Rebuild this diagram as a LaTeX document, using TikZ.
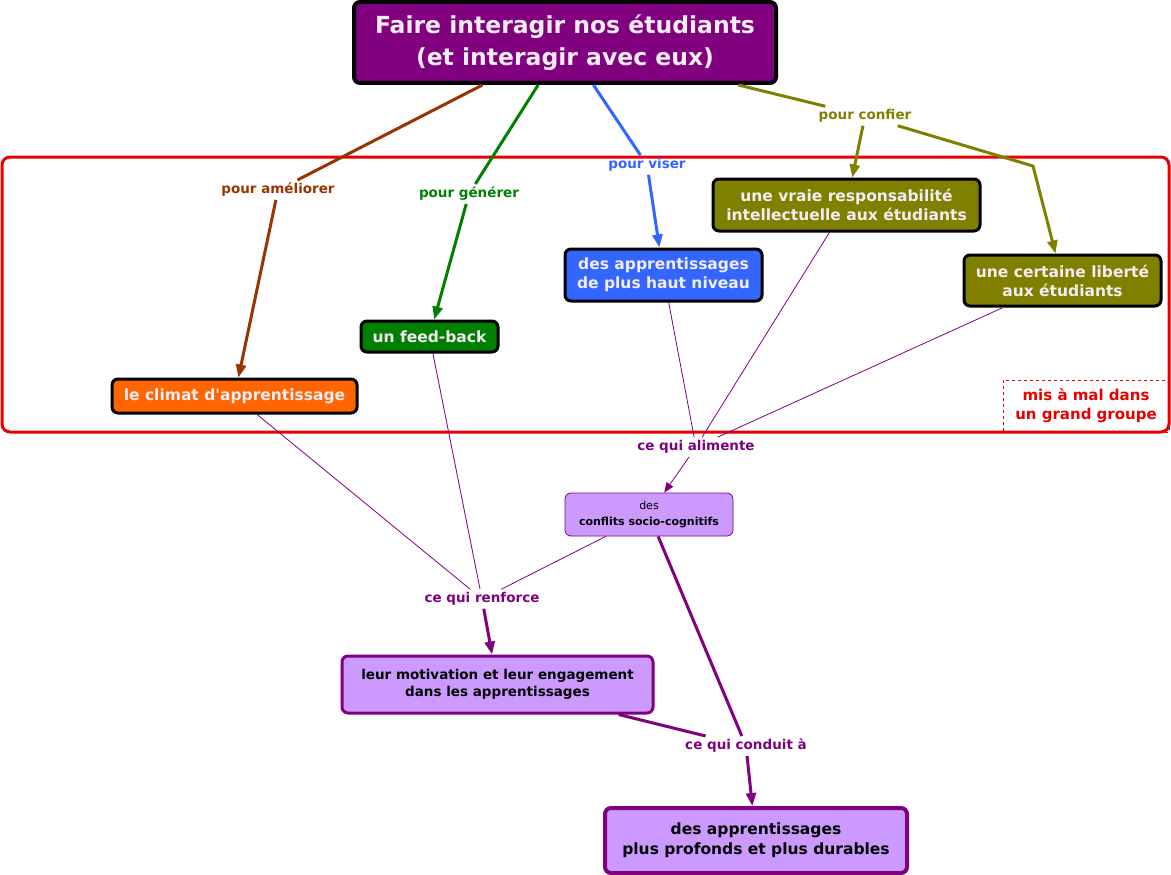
\documentclass[tikz,border=0pt]{standalone}
\usepackage{fontspec}
\setmainfont{DejaVu Sans}
\usetikzlibrary{arrows.meta}
\definecolor{cpurple}{HTML}{800080}
\definecolor{cbrown}{HTML}{993300}
\definecolor{cgreen}{HTML}{008000}
\definecolor{cblue}{HTML}{3366FF}
\definecolor{colive}{HTML}{808000}
\definecolor{cred}{HTML}{E60000}
\definecolor{corange}{HTML}{FF6600}
\definecolor{clav}{HTML}{CC99FF}
\definecolor{ctxt}{HTML}{F4ECF4}
\tikzset{
  box/.style={rounded corners=6pt, inner sep=0pt, align=center, font=\fontsize{15.5}{19}\selectfont\bfseries, text=ctxt, draw=black, line width=3pt},
  lbl/.style={inner sep=3pt, font=\fontsize{13.5}{16}\selectfont\bfseries},
  thinp/.style={draw=cpurple, line width=0.8pt},
  thickp/.style={draw=cpurple, line width=3pt},
  tip/.style={-{Triangle[length=13pt,width=10pt]}},
  smalltip/.style={-{Triangle[length=10pt,width=8pt]}},
}
\begin{document}
\begin{tikzpicture}[x=1pt,y=-1pt]
\useasboundingbox (0,0) rectangle (1171,875);
% group zone
\draw[cred, line width=3pt, rounded corners=8pt] (2,157) rectangle (1169,432);
\node[draw=cred, dashed, line width=0.6pt, minimum width=166pt, minimum height=52pt, inner sep=0pt, align=center, text=cred, font=\fontsize{15}{19}\selectfont\bfseries] (mal) at (1086,406) {mis à mal dans\\un grand groupe};
% nodes
\node[box, fill=cpurple, line width=4pt, minimum width=422pt, minimum height=81pt, font=\fontsize{23.5}{32}\selectfont\bfseries] (top) at (565,42.5) {Faire interagir nos étudiants\\ (et interagir avec eux)};
\node[box, fill=corange, minimum width=245pt, minimum height=34pt] (climat) at (234.5,396) {le climat d\textquotesingle apprentissage};
\node[box, fill=cgreen, minimum width=137pt, minimum height=31pt] (feed) at (429.5,336.5) {un feed-back};
\node[box, fill=cblue, minimum width=197pt, minimum height=52pt] (haut) at (663.5,275) {des apprentissages\\de plus haut niveau};
\node[box, fill=colive, minimum width=267pt, minimum height=52pt] (vraie) at (846.5,205) {une vraie responsabilité\\intellectuelle aux étudiants};
\node[box, fill=colive, minimum width=197pt, minimum height=51pt] (lib) at (1062.5,280.5) {une certaine liberté\\aux étudiants};
\node[box, fill=clav, draw=cpurple, line width=0.8pt, minimum width=168pt, minimum height=43pt, text=black, font=\fontsize{11}{16}\selectfont] (confl) at (649,514.5) {des\\\textbf{conflits socio-cognitifs}};
\node[box, fill=clav, draw=cpurple, minimum width=311pt, minimum height=57pt, text=black, font=\fontsize{13.5}{17}\selectfont\bfseries] (motiv) at (497.5,684.5) {leur motivation et leur engagement\\dans les apprentissages};
\node[box, fill=clav, draw=cpurple, line width=4pt, minimum width=302pt, minimum height=65pt, text=black, font=\fontsize{15.5}{20}\selectfont\bfseries] (final) at (756,840.5) {des apprentissages\\plus profonds et plus durables};
% labels
\node[lbl, text=cbrown] (lam) at (278,190) {pour améliorer};
\node[lbl, text=cgreen] (lgen) at (469,194) {pour générer};
\node[lbl, text=cblue] (lvis) at (647,165) {pour viser};
\node[lbl, text=colive] (lconf) at (865,116) {pour confier};
\node[lbl, text=cpurple] (lalim) at (696,447) {ce qui alimente};
\node[lbl, text=cpurple] (lrenf) at (482,599) {ce qui renforce};
\node[lbl, text=cpurple] (lcond) at (746,746) {ce qui conduit à};
\coordinate (cbend) at (1033,166);
% connectors
\draw[cbrown, line width=3pt] (top) -- (lam);
\draw[cbrown, line width=3pt, tip] (lam) -- (climat);
\draw[cgreen, line width=3pt] (top) -- (lgen);
\draw[cgreen, line width=3pt, tip] (lgen) -- (feed);
\draw[cblue, line width=3pt] (top) -- (lvis);
\draw[cblue, line width=3pt, tip] (lvis) -- (haut);
\draw[colive, line width=3pt] (top) -- (lconf);
\draw[colive, line width=3pt, tip] (lconf) -- (vraie);
\draw[colive, line width=3pt, tip] (lconf) -- (cbend) -- (lib);
\draw[thinp] (haut) -- (lalim);
\draw[thinp] (vraie) -- (lalim);
\draw[thinp] (lib) -- (lalim);
\draw[thinp, smalltip] (lalim) -- (confl);
\draw[thinp] (climat) -- (lrenf);
\draw[thinp] (feed) -- (lrenf);
\draw[thinp] (confl) -- (lrenf);
\draw[thickp, tip] (lrenf) -- (motiv);
\draw[thickp] (confl) -- (lcond);
\draw[thickp] (motiv) -- (lcond);
\draw[thickp, tip] (lcond) -- (final);
\end{tikzpicture}
\end{document}
